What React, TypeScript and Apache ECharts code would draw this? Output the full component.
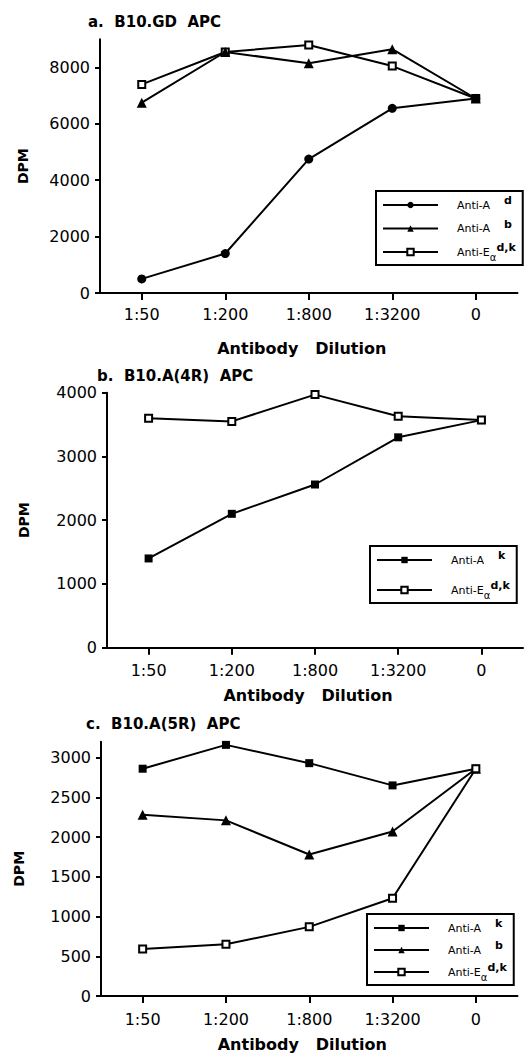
import React, { useEffect, useRef } from "react";
import * as echarts from "echarts";

const dilutions = ["1:50", "1:200", "1:800", "1:3200", "0"];

// Panel a: B10.GD APC
const aAntiAd = [500, 1400, 4750, 6550, 6900];
const aAntiAb = [6750, 8550, 8150, 8650, 6900];
const aAntiE = [7400, 8550, 8800, 8050, 6900];
const aTicks = [0, 2000, 4000, 6000, 8000];

// Panel b: B10.A(4R) APC
const bAntiAk = [1400, 2100, 2560, 3300, 3570];
const bAntiE = [3600, 3550, 3970, 3630, 3570];
const bTicks = [0, 1000, 2000, 3000, 4000];

// Panel c: B10.A(5R) APC
const cAntiAk = [2860, 3160, 2930, 2650, 2860];
const cAntiAb = [2280, 2210, 1780, 2070, 2860];
const cAntiE = [590, 650, 870, 1230, 2860];
const cTicks = [0, 500, 1000, 1500, 2000, 2500, 3000];

const titles = ["a.  B10.GD  APC", "b.  B10.A(4R)  APC", "c.  B10.A(5R)  APC"];
const xName = "Antibody   Dilution";
const yName = "DPM";

const FONT = "DejaVu Sans, Verdana, sans-serif";

const legendLabels: Record<string, string> = {
  a1: "{n|Anti-A}{s|d}",
  a2: "{n|Anti-A}{s|b}",
  a3: "{e|Anti-E}{al|α}{s|d,k}",
  b1: "{n|Anti-A}{s|k}",
  b2: "{e|Anti-E}{al|α}{s|d,k}",
  c1: "{n|Anti-A}{s|k}",
  c2: "{n|Anti-A}{s|b}",
  c3: "{e|Anti-E}{al|α}{s|d,k}",
};

const rich = {
  n: { fontFamily: FONT, fontSize: 11, color: "#000", width: 47, padding: [0, 0, 0, 14], lineHeight: 20, verticalAlign: "middle" },
  e: { fontFamily: FONT, fontSize: 11, color: "#000", padding: [0, 0, 0, 14], lineHeight: 20, verticalAlign: "middle" },
  al: { fontFamily: FONT, fontSize: 10, color: "#000", lineHeight: 14, verticalAlign: "bottom" },
  s: { fontFamily: FONT, fontSize: 11, fontWeight: "bold", color: "#000", lineHeight: 12, verticalAlign: "top" },
};

const grids = [
  { left: 100, top: 39.3, width: 417.5, height: 253.7 },
  { left: 107, top: 392.7, width: 416, height: 255 },
  { left: 101, top: 741.7, width: 416.5, height: 254.3 },
];

function mkX(i: number, labelMargin: number, nameGap: number) {
  return {
    type: "category",
    gridIndex: i,
    data: dilutions,
    boundaryGap: true,
    axisLine: { show: true, onZero: false, lineStyle: { color: "#000", width: 2 } },
    axisTick: { show: true, alignWithLabel: true, length: 7, lineStyle: { color: "#000", width: 2 } },
    axisLabel: { fontFamily: FONT, fontSize: 16, color: "#000", margin: labelMargin },
    splitLine: { show: false },
    name: xName,
    nameLocation: "middle",
    nameGap,
    nameTextStyle: { fontFamily: FONT, fontSize: 16, fontWeight: "bold", color: "#000", padding: [0, 14, 0, 0] },
  };
}

function mkY(i: number, max: number, interval: number, ticks: number[], nameGap: number) {
  return {
    type: "value",
    gridIndex: i,
    min: 0,
    max,
    interval,
    axisLine: { show: true, lineStyle: { color: "#000", width: 2 } },
    axisTick: { show: true, length: 5, customValues: ticks, lineStyle: { color: "#000", width: 2 } },
    axisLabel: {
      fontFamily: FONT,
      fontSize: 16,
      color: "#000",
      margin: 10,
      customValues: ticks,
      formatter: (v: number) => (ticks.indexOf(v) >= 0 ? String(v) : ""),
    },
    splitLine: { show: false },
    name: yName,
    nameLocation: "middle",
    nameRotate: 90,
    nameGap,
    nameTextStyle: { fontFamily: FONT, fontSize: 14, fontWeight: "bold", color: "#000" },
  };
}

function mkSeries(name: string, i: number, data: number[], kind: string) {
  const base: any = {
    name,
    type: "line",
    xAxisIndex: i,
    yAxisIndex: i,
    data,
    lineStyle: { color: "#000", width: 2 },
    emphasis: { disabled: true },
  };
  if (kind === "circle") {
    base.symbol = "circle";
    base.symbolSize = 9;
    base.itemStyle = { color: "#000", borderWidth: 0 };
  } else if (kind === "triangle") {
    base.symbol = "triangle";
    base.symbolSize = 10;
    base.itemStyle = { color: "#000", borderWidth: 0 };
  } else if (kind === "square") {
    base.symbol = "rect";
    base.symbolSize = 8;
    base.itemStyle = { color: "#000", borderWidth: 0 };
  } else {
    base.symbol = "emptyRect";
    base.symbolSize = 7;
    base.itemStyle = { color: "#000", borderWidth: 1.5 };
  }
  return base;
}

function mkLegend(names: string[], left: number, top: number, itemGap: number) {
  return {
    data: names,
    orient: "vertical",
    left,
    top,
    itemWidth: 55,
    itemHeight: 8,
    itemGap,
    padding: [4, 7, 3, 6],
    borderColor: "#000",
    borderWidth: 2,
    backgroundColor: "#fff",
    selectedMode: false,
    formatter: (n: string) => legendLabels[n],
    textStyle: { fontFamily: FONT, fontSize: 11, color: "#000", rich },
  };
}

export default function App() {
  const ref = useRef<HTMLDivElement>(null);
  useEffect(() => {
    if (!ref.current) return;
    const chart = echarts.init(ref.current, null, { renderer: "svg" });
    const option: any = {
      animation: false,
      backgroundColor: "#fff",
      title: [
        { text: titles[0], left: 88, top: 14, padding: 0, textStyle: { fontFamily: FONT, fontSize: 15, fontWeight: "bold", color: "#000" } },
        { text: titles[1], left: 97, top: 368, padding: 0, textStyle: { fontFamily: FONT, fontSize: 15, fontWeight: "bold", color: "#000" } },
        { text: titles[2], left: 86, top: 716, padding: 0, textStyle: { fontFamily: FONT, fontSize: 15, fontWeight: "bold", color: "#000" } },
      ],
      grid: grids.map((g) => ({ ...g, containLabel: false, outerBoundsMode: "none" })),
      xAxis: [mkX(0, 13, 47), mkX(1, 15, 40), mkX(2, 15, 40)],
      yAxis: [
        mkY(0, 9000, 2000, aTicks, 70),
        mkY(1, 4000, 1000, bTicks, 76),
        mkY(2, 3200, 500, cTicks, 75),
      ],
      legend: [
        mkLegend(["a1", "a2", "a3"], 376, 191, 8),
        mkLegend(["b1", "b2"], 370, 546, 14.5),
        mkLegend(["c1", "c2", "c3"], 367, 914, 6.5),
      ],
      series: [
        mkSeries("a3", 0, aAntiE, "open"),
        mkSeries("a2", 0, aAntiAb, "triangle"),
        mkSeries("a1", 0, aAntiAd, "circle"),
        mkSeries("b1", 1, bAntiAk, "square"),
        mkSeries("b2", 1, bAntiE, "open"),
        mkSeries("c1", 2, cAntiAk, "square"),
        mkSeries("c2", 2, cAntiAb, "triangle"),
        mkSeries("c3", 2, cAntiE, "open"),
      ],
    };
    chart.setOption(option);
    return () => chart.dispose();
  }, []);
  return (
    <div
      ref={ref}
      style={{ position: "fixed", left: 0, top: 0, width: 532, height: 1053, background: "#fff" }}
    />
  );
}
